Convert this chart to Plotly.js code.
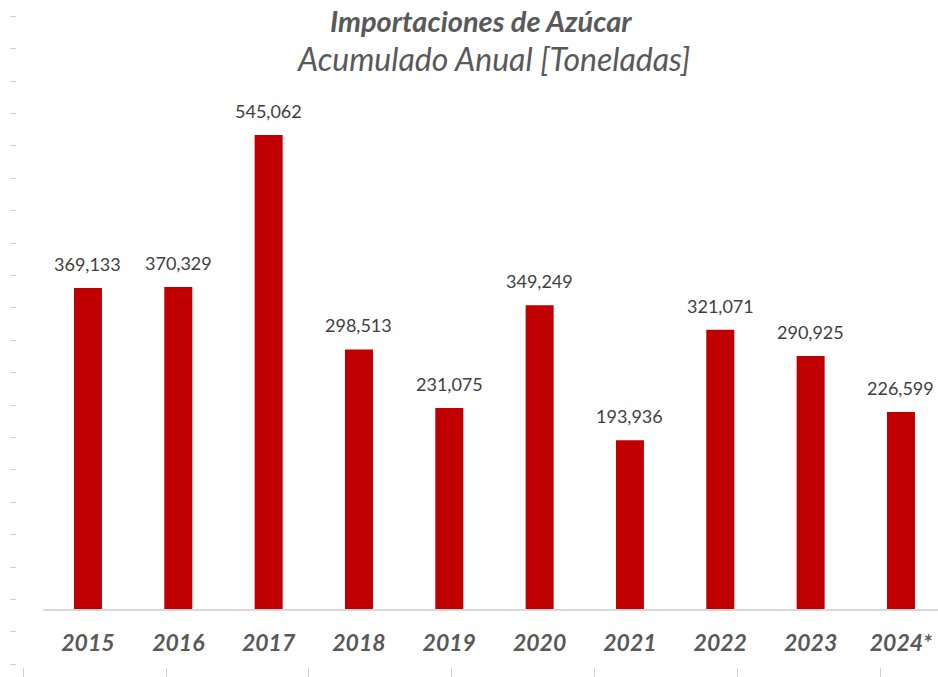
<!DOCTYPE html>
<html>
<head>
<meta charset="utf-8">
<script src="https://cdn.plot.ly/plotly-3.0.1.min.js"></script>
<style>
  body { margin: 0; background: #ffffff; }
  #chart { width: 938px; height: 677px; }
</style>
</head>
<body>
<div id="chart"></div>
<script>
// Importaciones de azucar, acumulado anual (toneladas)
var years = ['2015', '2016', '2017', '2018', '2019', '2020', '2021', '2022', '2023', '2024'];
var yearLabels = ['2015', '2016', '2017', '2018', '2019', '2020', '2021', '2022', '2023', '2024*'];
var tons = [369133, 370329, 545062, 298513, 231075, 349249, 193936, 321071, 290925, 226599];

var barColor = '#C00000';
var font = "Lato, 'Open Sans', sans-serif";

var bars = {
    x: years,
    y: tons,
    type: 'bar',
    width: 0.31,
    marker: { color: barColor },
    hoverinfo: 'x+y'
};

// empty trace so the edge tick axes get a subplot
var edge = {
    x: [],
    y: [],
    type: 'scatter',
    mode: 'markers',
    xaxis: 'x2',
    yaxis: 'y2',
    hoverinfo: 'skip'
};

// value labels above each bar (x as category index)
var labels = years.map(function (yr, i) {
    return {
        x: i,
        y: tons[i],
        xref: 'x',
        yref: 'y',
        text: tons[i].toLocaleString('en-US'),
        showarrow: false,
        yanchor: 'bottom',
        yshift: 11,
        font: { family: font, size: 18, color: '#404040' }
    };
});

var titles = [
    {
        text: '<b><i>Importaciones de Azúcar</i></b>',
        xref: 'paper', yref: 'paper',
        x: 0.504, y: 0.969,
        xanchor: 'center', yanchor: 'middle',
        showarrow: false,
        font: { family: font, size: 29, color: '#595959' }
    },
    {
        text: '<i>Acumulado Anual [Toneladas]</i>',
        xref: 'paper', yref: 'paper',
        x: 0.517, y: 0.914,
        xanchor: 'center', yanchor: 'middle',
        showarrow: false,
        font: { family: font, size: 32, color: '#595959' }
    }
];

var layout = {
    width: 938,
    height: 677,
    margin: { l: 17, r: 0, t: 0, b: 0 },
    paper_bgcolor: '#ffffff',
    plot_bgcolor: 'rgba(0,0,0,0)',
    showlegend: false,
    font: { family: font },
    xaxis: {
        type: 'category',
        domain: [0.0282, 1],
        range: [-0.498, 9.41],
        tickvals: years,
        ticktext: yearLabels.map(function (t) { return '<b><i>' + t + '</i></b>'; }),
        tickfont: { family: font, size: 23, color: '#595959' },
        ticks: 'outside',
        ticklen: 12,
        tickcolor: 'rgba(0,0,0,0)',
        showline: true,
        linecolor: '#d9d9d9',
        linewidth: 2,
        showgrid: false,
        zeroline: false,
        fixedrange: true
    },
    yaxis: {
        domain: [0.1004, 1],
        range: [0, 700300],
        showticklabels: false,
        showgrid: false,
        zeroline: false,
        showline: false,
        fixedrange: true
    },
    // faint leftover tick marks along the edges
    xaxis2: {
        type: 'linear',
        anchor: 'y2',
        domain: [0, 1],
        range: [-0.042, 6.399],
        tick0: 0,
        dtick: 1,
        ticks: 'inside',
        ticklen: 9,
        tickcolor: '#d0d0d0',
        showticklabels: false,
        showgrid: false,
        zeroline: false,
        showline: false,
        fixedrange: true
    },
    yaxis2: {
        type: 'linear',
        anchor: 'x2',
        domain: [0, 1],
        range: [-0.392, 20.5],
        tick0: 0,
        dtick: 1,
        ticks: 'outside',
        ticklen: 6,
        tickcolor: '#d0d0d0',
        showticklabels: false,
        showgrid: false,
        zeroline: false,
        showline: false,
        fixedrange: true
    },
    annotations: titles.concat(labels)
};

Plotly.newPlot('chart', [bars, edge], layout, { displayModeBar: false, staticPlot: true });
</script>
</body>
</html>
